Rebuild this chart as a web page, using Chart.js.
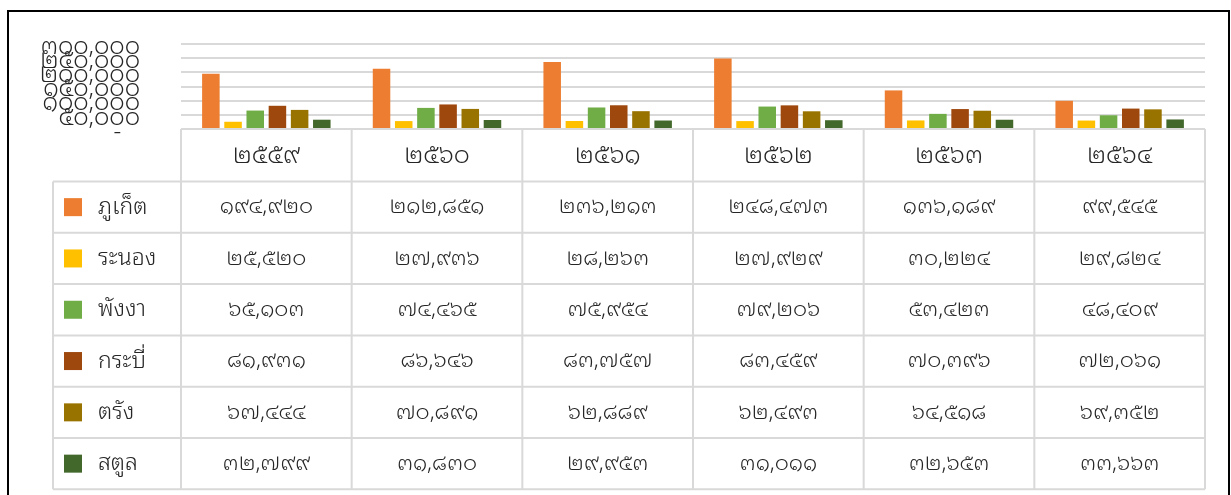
<!DOCTYPE html>
<html>
<head>
<meta charset="utf-8">
<script src="https://cdn.jsdelivr.net/npm/chart.js@4.4.0/dist/chart.umd.min.js"></script>
<style>
    html, body { margin: 0; padding: 0; background: #fff; overflow: hidden; }
    #frame { position: absolute; left: 7px; top: 10px; width: 1223px; height: 500px; border: 2px solid #000; box-sizing: border-box; }
    #wrap { position: absolute; left: 0; top: 0; width: 1231px; height: 495px; }
</style>
</head>
<body>
<div id="frame"></div>
<div id="wrap"><canvas id="tourChart"></canvas></div>
<script>
// Tourist numbers by province (data table under the chart)
const years = ['๒๕๕๙', '๒๕๖๐', '๒๕๖๑', '๒๕๖๒', '๒๕๖๓', '๒๕๖๔'];
const provinces = ['ภูเก็ต', 'ระนอง', 'พังงา', 'กระบี่', 'ตรัง', 'สตูล'];

const phuket = [194920, 212851, 236213, 248473, 136189, 99545];
const ranong = [25520, 27936, 28263, 27929, 30224, 29824];
const phangnga = [65103, 74465, 75954, 79206, 53423, 48409];
const krabi = [81931, 86646, 83757, 83459, 70396, 72061];
const trang = [67444, 70891, 62889, 62493, 64518, 69352];
const satun = [32799, 31830, 29953, 31011, 32653, 33663];

const yTicks = [0, 50000, 100000, 150000, 200000, 250000, 300000];

const seriesValues = [phuket, ranong, phangnga, krabi, trang, satun];
const colors = ['#ED7D31', '#FFC000', '#70AD47', '#9E480E', '#997300', '#43682B'];

const FONT = "'Noto Sans Thai Looped', 'Noto Sans Thai', Loma, Garuda, 'Noto Sans', sans-serif";
const TEXT = '#262626';
const LINE = '#d9d9d9';

// Convert arabic digits to thai digits, with thousands separators
function thaiNum(n) {
    const thai = '๐๑๒๓๔๕๖๗๘๙';
    return n.toLocaleString('en-US').replace(/[0-9]/g, d => thai[+d]);
}

// Draw the data table below the plot, aligned on the x scale
const dataTablePlugin = {
    id: 'dataTable',
    afterDraw(chart) {
        const ctx = chart.ctx;
        const area = chart.chartArea;
        const xScale = chart.scales.x;
        const colW = (area.right - area.left) / years.length;
        const top = area.bottom;
        const headerH = 52.5;
        const rowH = 51.3;
        const labelLeft = 53;
        const tableBottom = top + headerH + rowH * provinces.length;

        ctx.save();
        ctx.strokeStyle = LINE;
        ctx.lineWidth = 2;
        ctx.beginPath();
        ctx.moveTo(area.left, top);
        ctx.lineTo(area.right, top);
        for (let i = 0; i <= years.length; i++) {
            const x = area.left + i * colW;
            ctx.moveTo(x, top);
            ctx.lineTo(x, tableBottom);
        }
        ctx.moveTo(labelLeft, top + headerH);
        ctx.lineTo(labelLeft, tableBottom);
        for (let r = 0; r <= provinces.length; r++) {
            const y = top + headerH + r * rowH;
            ctx.moveTo(labelLeft, y);
            ctx.lineTo(area.right, y);
        }
        ctx.stroke();

        ctx.textBaseline = 'middle';
        provinces.forEach((name, r) => {
            const cy = top + headerH + r * rowH + rowH / 2;
            ctx.fillStyle = colors[r];
            ctx.fillRect(64, cy - 9, 18, 18);
            ctx.fillStyle = TEXT;
            ctx.textAlign = 'left';
            ctx.font = '300 23px ' + FONT;
            ctx.fillText(name, 98, cy);
            ctx.textAlign = 'center';
            ctx.font = '300 22px ' + FONT;
            seriesValues[r].forEach((v, i) => {
                ctx.fillText(thaiNum(v), xScale.getPixelForTick(i), cy);
            });
        });
        ctx.restore();
    }
};

const ctx = document.getElementById('tourChart').getContext('2d');
new Chart(ctx, {
    type: 'bar',
    data: {
        labels: years,
        datasets: provinces.map((name, i) => ({
            label: name,
            data: seriesValues[i],
            backgroundColor: colors[i],
            categoryPercentage: 0.78,
            barPercentage: 0.79
        }))
    },
    options: {
        responsive: true,
        maintainAspectRatio: false,
        animation: false,
        layout: { padding: { top: 44, right: 26, left: 0, bottom: 0 } },
        plugins: {
            legend: { display: false },
            tooltip: { enabled: false }
        },
        scales: {
            x: {
                grid: { display: false, drawTicks: false },
                border: { display: false },
                ticks: {
                    padding: 12,
                    color: TEXT,
                    font: { family: FONT, size: 25, weight: '300' }
                },
                afterFit(scale) {
                    scale.height = 366;
                    scale.paddingLeft = 0;
                    scale.paddingRight = 0;
                }
            },
            y: {
                min: 0,
                max: 300000,
                afterBuildTicks(scale) { scale.ticks = yTicks.map(v => ({ value: v })); },
                grid: { color: LINE, lineWidth: 2, drawTicks: false },
                border: { display: false },
                ticks: {
                    autoSkip: false,
                    padding: 41,
                    labelOffset: 3,
                    color: TEXT,
                    font: { family: FONT, size: 24, weight: '300' },
                    callback: v => v === 0 ? '-   ' : thaiNum(v)
                },
                afterFit(scale) {
                    scale.width = 181;
                    scale.paddingTop = 0;
                    scale.paddingBottom = 0;
                }
            }
        }
    },
    plugins: [dataTablePlugin]
});
</script>
</body>
</html>
